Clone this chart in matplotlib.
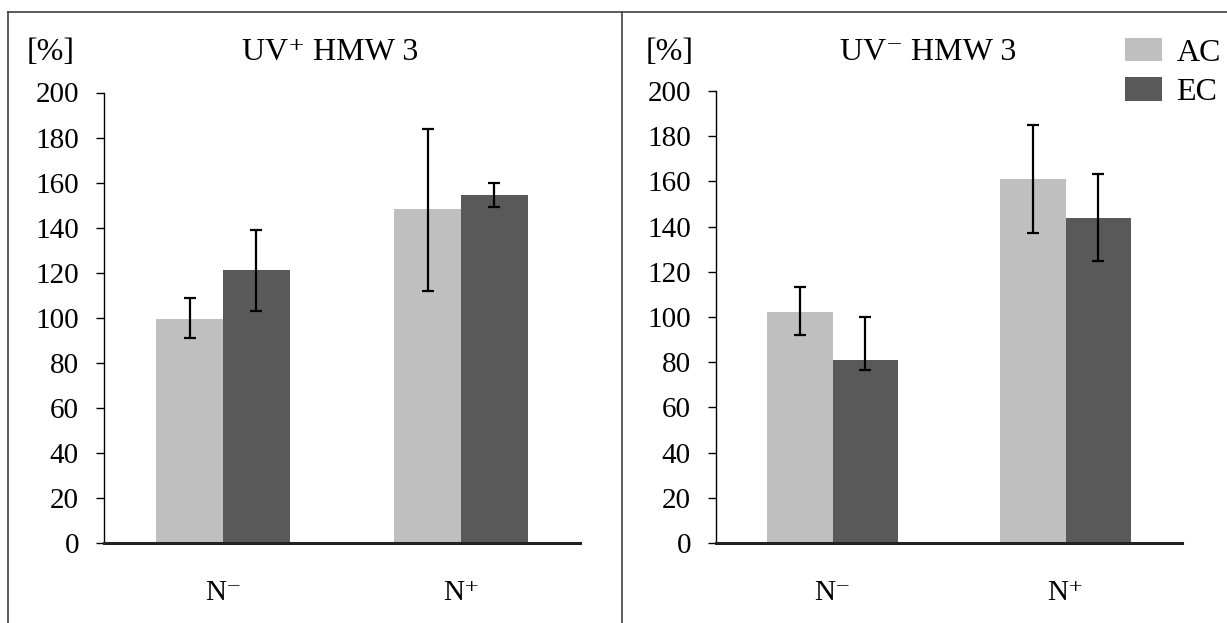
import matplotlib
matplotlib.use('Agg')
import matplotlib.pyplot as plt
import numpy as np
from matplotlib.lines import Line2D

plt.rcParams['font.family'] = ['Liberation Serif', 'DejaVu Serif']

# Data
groups = ['N\u207b', 'N\u207a']
series = ['AC', 'EC']
colors = ['#bfbfbf', '#595959']

uvp_ac = [99.6, 148.3]
uvp_ac_lo = [8.7, 36.3]
uvp_ac_hi = [9.2, 35.7]
uvp_ec = [121.0, 154.5]
uvp_ec_lo = [18.1, 5.2]
uvp_ec_hi = [17.8, 5.3]

uvm_ac = [102.4, 161.0]
uvm_ac_lo = [10.4, 24.0]
uvm_ac_hi = [11.0, 24.0]
uvm_ec = [80.8, 143.9]
uvm_ec_lo = [4.4, 19.1]
uvm_ec_hi = [19.2, 19.5]

yticks = [0, 20, 40, 60, 80, 100, 120, 140, 160, 180, 200]

W, H = 1227, 623
fig = plt.figure(figsize=(W / 100, H / 100), dpi=100)

ax1 = fig.add_axes([104 / W, 1 - 543 / H, 476 / W, 450.5 / H])
ax2 = fig.add_axes([716 / W, 1 - 543 / H, 466 / W, 452 / H])

x = np.arange(len(groups))
w = 0.28


def draw(ax, ac, ac_lo, ac_hi, ec, ec_lo, ec_hi):
    ekw = dict(elinewidth=1.6, capthick=1.6, ecolor='black')
    b1 = ax.bar(x - w / 2, ac, w, color=colors[0], label=series[0],
                yerr=[ac_lo, ac_hi], capsize=4.5, error_kw=ekw, zorder=2)
    b2 = ax.bar(x + w / 2, ec, w, color=colors[1], label=series[1],
                yerr=[ec_lo, ec_hi], capsize=4.5, error_kw=ekw, zorder=2)
    ax.set_xlim(-0.5, 1.5)
    ax.set_ylim(0, 200)
    ax.set_yticks(yticks)
    ax.set_xticks(x)
    ax.set_xticklabels(groups, fontsize=21)
    ax.tick_params(axis='x', length=0, pad=27)
    ax.tick_params(axis='y', length=6, width=1, direction='out', pad=12,
                   labelsize=21)
    for s in ['top', 'right']:
        ax.spines[s].set_visible(False)
    ax.spines['left'].set_linewidth(1)
    ax.spines['bottom'].set_linewidth(2.2)
    ax.spines['bottom'].set_color('#222222')
    return b1, b2


draw(ax1, uvp_ac, uvp_ac_lo, uvp_ac_hi, uvp_ec, uvp_ec_lo, uvp_ec_hi)
draw(ax2, uvm_ac, uvm_ac_lo, uvm_ac_hi, uvm_ec, uvm_ec_lo, uvm_ec_hi)

# Titles and units
fig.text(330 / W, 1 - 53 / H, 'UV\u207a HMW 3', ha='center', va='center', fontsize=23)
fig.text(928 / W, 1 - 53 / H, 'UV\u207b HMW 3', ha='center', va='center', fontsize=23)
fig.text(27 / W, 1 - 53 / H, '[%]', ha='left', va='center', fontsize=23)
fig.text(646 / W, 1 - 53 / H, '[%]', ha='left', va='center', fontsize=23)

# Legend
ax2.legend(loc='upper right', bbox_to_anchor=(1221 / W, 1 - 38 / H),
           bbox_transform=fig.transFigure, frameon=False, fontsize=23,
           handlelength=1.15, handleheight=0.75, handletextpad=0.45,
           labelspacing=0.3, borderaxespad=0, borderpad=0)

# Panel frames
bc = '#404040'
fig.add_artist(Line2D([8 / W, 8 / W], [0, 1 - 12 / H], color=bc, lw=1.2,
                      transform=fig.transFigure))
fig.add_artist(Line2D([8 / W, 1], [1 - 12 / H, 1 - 12 / H], color=bc, lw=1.2,
                      transform=fig.transFigure))
fig.add_artist(Line2D([622 / W, 622 / W], [0, 1 - 12 / H], color=bc, lw=1.2,
                      transform=fig.transFigure))

fig.savefig('out.png', dpi=100)
